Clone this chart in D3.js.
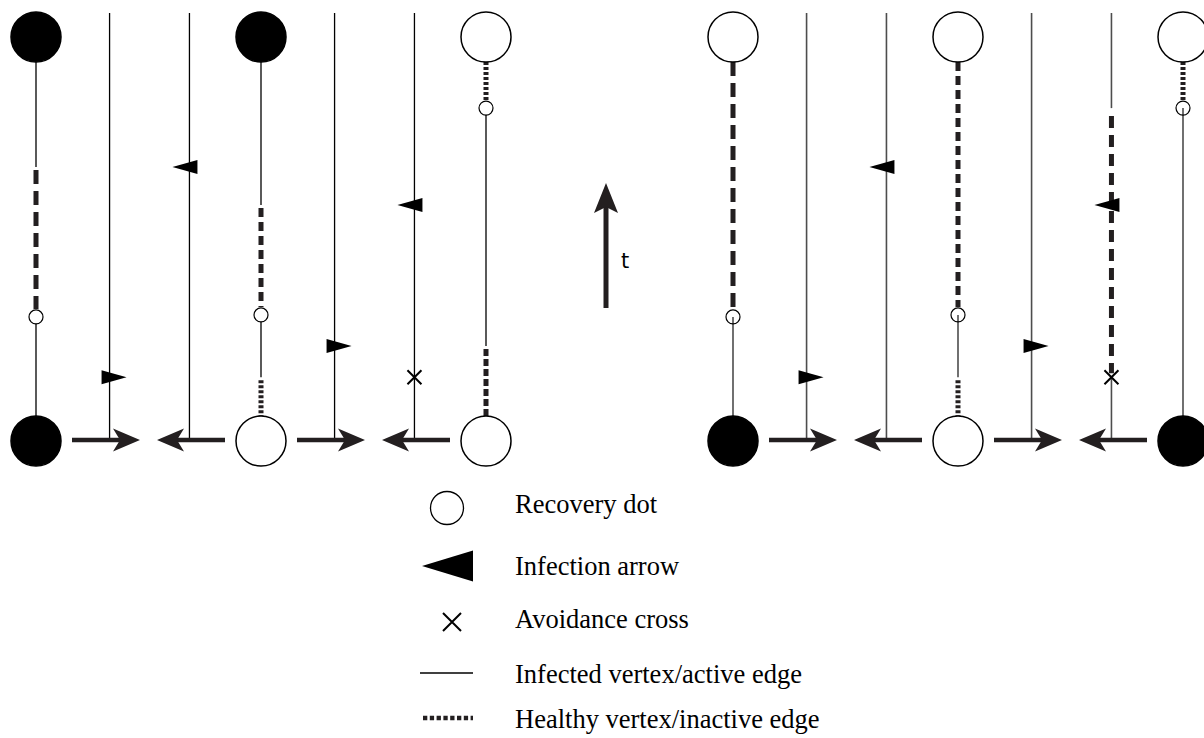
<!DOCTYPE html>
<html>
<head>
<meta charset="utf-8">
<script src="https://cdn.jsdelivr.net/npm/d3@7"></script>
<style>
  body { margin: 0; background: #fff; }
  svg { display: block; }
</style>
</head>
<body>
<div id="chart"></div>
<script>
// ---- data (time t: 0 = bottom row of vertices, 1 = top row) ----
const panels = ["left", "right"];
const vertexIds = [0, 1, 2];

// state segments of each vertex line: [t0, t1, kind]  (I = infected, H* = healthy)
const vertexSegments = [
  [
    [[0, 0.307, "I"], [0.307, 0.678, "H1"], [0.678, 1, "I"]],
    [[0, 0.158, "H4"], [0.158, 0.312, "I"], [0.312, 0.584, "H2"], [0.584, 1, "I"]],
    [[0, 0.235, "H3"], [0.235, 0.824, "I"], [0.824, 1, "H4"]]
  ],
  [
    [[0, 0.307, "I"], [0.307, 1, "H1"]],
    [[0, 0.158, "H4"], [0.158, 0.312, "I"], [0.312, 1, "H2"]],
    [[0, 0.824, "I"], [0.824, 1, "H4"]]
  ]
];

// directed edges (from -> to), same in both panels
const edges = [
  { from: 0, to: 1 },
  { from: 1, to: 0 },
  { from: 1, to: 2 },
  { from: 2, to: 1 }
];

// [edge index, t]
const infectionArrows = [
  [[0, 0.158], [1, 0.678], [2, 0.235], [3, 0.584]],
  [[0, 0.158], [1, 0.678], [2, 0.235], [3, 0.584]]
];
const avoidanceCrosses = [
  [[3, 0.158]],
  [[3, 0.158]]
];
// [vertex, t]
const recoveryDots = [
  [[0, 0.307], [1, 0.312], [2, 0.824]],
  [[0, 0.307], [1, 0.312], [2, 0.824]]
];
// inactive parts of edges: [edge index, t0, t1]
const edgeInactive = [
  [],
  [[3, 0.158, 0.824]]
];

const legendLabels = [
  "Recovery dot",
  "Infection arrow",
  "Avoidance cross",
  "Infected vertex/active edge",
  "Healthy vertex/inactive edge"
];
const legendSymbols = ["dot", "arrow", "cross", "solid", "dotted"];

// ---- layout / style ----
const width = 1204, height = 738;
const R = 25, rDot = 7;
const ink = "#231f20";
const panelStyle = [
  { line: "#000", lineWidth: 1.3, dotFill: "#fff" },
  { line: "#4d4d4d", lineWidth: 1.6, dotFill: "none" }
];
const dashStyles = {
  H1: "14,7",
  H2: "9,5",
  H3: "7,3",
  H4: "3,2"
};
const legendRowY = [508, 566, 622, 673, 718];
const legendTextY = [513, 575, 628, 683, 728];

const svg = d3.select("#chart").append("svg")
  .attr("width", width)
  .attr("height", height);

const yScale = d3.scaleLinear().domain([0, 1]).range([441, 37]);
const yTopEdge = yScale(1) - 24;
const yLineTop = yScale(1) + R, yLineBot = yScale(0) - R;

function edgeX(xs, e) {
  const lo = Math.min(e.from, e.to);
  // forward edges sit closer to the left vertex, backward ones closer to the right
  return xs(lo + (e.from < e.to ? 0.327 : 0.682));
}

// shaft + notched head, horizontal
function hArrow(g, x0, x1, y) {
  const dir = Math.sign(x1 - x0);
  g.append("line")
    .attr("x1", x0).attr("x2", x1 - dir * 18)
    .attr("y1", y).attr("y2", y)
    .attr("stroke", ink).attr("stroke-width", 4.5);
  g.append("path")
    .attr("d", d3.line()([
      [x1, y], [x1 - dir * 27, y - 11.5], [x1 - dir * 20, y], [x1 - dir * 27, y + 11.5]
    ]) + "Z")
    .attr("fill", ink);
}

function triangle(g, x, y, dir) {
  g.append("path")
    .attr("d", d3.line()([[x + dir * 17, y], [x - dir * 8, y - 7], [x - dir * 8, y + 7]]) + "Z")
    .attr("fill", "#000");
}

function cross(g, x, y, s, w) {
  g.append("path")
    .attr("d", `M${x - s},${y - s}L${x + s},${y + s}M${x - s},${y + s}L${x + s},${y - s}`)
    .attr("stroke", "#000").attr("stroke-width", w).attr("fill", "none");
}

panels.forEach((p, pi) => {
  const st = panelStyle[pi];
  const xs = d3.scaleLinear().domain([0, 2]).range([36 + pi * 697, 486 + pi * 697]);
  const g = svg.append("g").attr("class", "panel-" + p);

  // edges: vertical time lines
  edges.forEach((e, ei) => {
    const x = edgeX(xs, e);
    const gaps = edgeInactive[pi].filter(d => d[0] === ei);
    let cuts = [[yScale(0), yTopEdge]];
    gaps.forEach(([, t0, t1]) => {
      cuts = cuts.flatMap(([a, b]) => [[a, yScale(t0)], [yScale(t1), b]]);
    });
    cuts.forEach(([a, b]) => {
      g.append("line")
        .attr("x1", x).attr("x2", x).attr("y1", a).attr("y2", b)
        .attr("stroke", st.line).attr("stroke-width", st.lineWidth);
    });
    gaps.forEach(([, t0, t1]) => {
      g.append("line")
        .attr("x1", x).attr("x2", x).attr("y1", yScale(t1) + 8).attr("y2", yScale(t0) - 4)
        .attr("stroke", ink).attr("stroke-width", 5)
        .attr("stroke-dasharray", "12,7");
    });
  });

  // horizontal arrows at t = 0
  edges.forEach(e => {
    const xFrom = xs(e.from), xTo = xs(e.to);
    const dir = Math.sign(xTo - xFrom);
    hArrow(g, xFrom + dir * 36, xFrom + dir * 104, yScale(0) - 1);
  });

  // vertex lines
  vertexIds.forEach(v => {
    const x = xs(v);
    const dotTimes = recoveryDots[pi].filter(d => d[0] === v).map(d => d[1]);
    const pad = t => dotTimes.includes(t) ? rDot + 1 : 3;
    vertexSegments[pi][v].forEach(([t0, t1, kind]) => {
      let yA = yScale(t1), yB = yScale(t0);
      if (kind !== "I") {
        yA = t1 === 1 ? yA : yA + pad(t1);
        yB = t0 === 0 ? yB : yB - pad(t0);
      }
      yA = Math.max(yA, yLineTop);
      yB = Math.min(yB, yLineBot);
      const ln = g.append("line")
        .attr("x1", x).attr("x2", x).attr("y1", yA).attr("y2", yB);
      if (kind === "I") {
        ln.attr("stroke", st.line).attr("stroke-width", st.lineWidth);
      } else {
        ln.attr("stroke", ink).attr("stroke-width", 5)
          .attr("stroke-dasharray", dashStyles[kind]);
      }
    });
  });

  // infection arrows and avoidance crosses
  infectionArrows[pi].forEach(([ei, t]) => {
    const e = edges[ei];
    triangle(g, edgeX(xs, e), yScale(t), Math.sign(e.to - e.from));
  });
  avoidanceCrosses[pi].forEach(([ei, t]) => {
    cross(g, edgeX(xs, edges[ei]), yScale(t), 7, 2);
  });

  // recovery dots
  recoveryDots[pi].forEach(([v, t]) => {
    g.append("circle")
      .attr("cx", xs(v)).attr("cy", yScale(t)).attr("r", rDot)
      .attr("fill", st.dotFill).attr("stroke", "#000").attr("stroke-width", 1.2);
  });

  // vertex circles at both ends
  vertexIds.forEach(v => {
    const segs = vertexSegments[pi][v];
    [[0, segs[0][2]], [1, segs[segs.length - 1][2]]].forEach(([t, kind]) => {
      g.append("circle")
        .attr("cx", xs(v)).attr("cy", yScale(t)).attr("r", R)
        .attr("fill", kind === "I" ? "#000" : "#fff")
        .attr("stroke", "#000").attr("stroke-width", 1.5);
    });
  });
});

// time arrow
const tArrow = svg.append("g");
tArrow.append("line")
  .attr("x1", 606).attr("x2", 606).attr("y1", 308).attr("y2", 200)
  .attr("stroke", ink).attr("stroke-width", 5);
tArrow.append("path")
  .attr("d", d3.line()([[606, 183], [594, 213], [606, 207], [618, 213]]) + "Z")
  .attr("fill", ink);
tArrow.append("text")
  .attr("x", 621).attr("y", 268)
  .attr("font-family", "DejaVu Sans, sans-serif").attr("font-size", 21)
  .text("t");

// legend
const lg = svg.append("g").attr("class", "legend");
legendSymbols.forEach((s, i) => {
  const y = legendRowY[i];
  if (s === "dot") {
    lg.append("circle").attr("cx", 447).attr("cy", y).attr("r", 16.5)
      .attr("fill", "#fff").attr("stroke", "#000").attr("stroke-width", 1.3);
  } else if (s === "arrow") {
    lg.append("path")
      .attr("d", d3.line()([[422, y], [473, y - 15.5], [473, y + 15.5]]) + "Z")
      .attr("fill", "#000");
  } else if (s === "cross") {
    cross(lg, 452, y, 9, 2);
  } else if (s === "solid") {
    lg.append("line").attr("x1", 420).attr("x2", 473).attr("y1", y).attr("y2", y)
      .attr("stroke", "#000").attr("stroke-width", 1.3);
  } else {
    lg.append("line").attr("x1", 423).attr("x2", 473).attr("y1", y).attr("y2", y)
      .attr("stroke", ink).attr("stroke-width", 4.5).attr("stroke-dasharray", "4.3,2.5");
  }
  lg.append("text")
    .attr("x", 515).attr("y", legendTextY[i])
    .attr("font-family", "Liberation Serif, Times New Roman, serif")
    .attr("font-size", 26.5)
    .text(legendLabels[i]);
});
</script>
</body>
</html>
